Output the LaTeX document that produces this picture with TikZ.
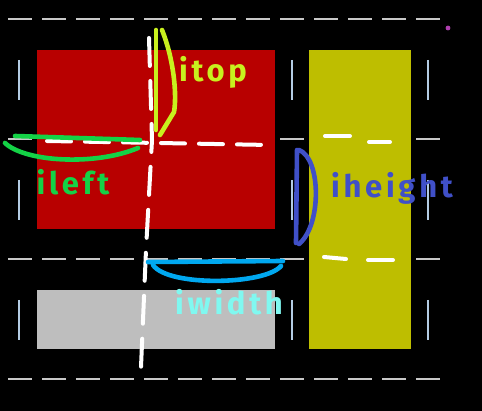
\documentclass[tikz,border=0pt]{standalone}
\usepackage{fontspec}
\setmainfont{Fira Sans}
\definecolor{rosso}{HTML}{B80000}
\definecolor{oliva}{HTML}{BEBE00}
\definecolor{grigio}{HTML}{BEBEBE}
\definecolor{griglia}{HTML}{C8C8C8}
\definecolor{grigliav}{HTML}{B4CCE4}
\definecolor{verde}{HTML}{14D246}
\definecolor{lime}{HTML}{C8F01E}
\definecolor{blu}{HTML}{4050C8}
\definecolor{azzurro}{HTML}{00A8F0}
\definecolor{ciano}{HTML}{80F8F0}
\definecolor{viola}{HTML}{B040B0}
\tikzset{
    mano/.style={line width=4.6pt},
    etichetta/.style={font=\fontsize{31}{31}\selectfont\bfseries\addfontfeature{LetterSpace=12}, inner sep=0pt},
}
\begin{document}
\begin{tikzpicture}[x=1pt, y=-1pt, line cap=round, line join=round]
        % Fondo nero
        \fill[black] (0,0) rectangle (482,411);

        % Griglia tratteggiata (righe orizzontali)
        \foreach \yy in {19, 139, 259, 379}
            \draw[line width=2.4pt, color=griglia, dash pattern=on 24pt off 10pt, line cap=butt] (8,\yy) -- (440,\yy);

        % Griglia tratteggiata (tratti verticali)
        \foreach \xx in {19, 292, 428}
            \foreach \yy in {60, 180, 300}
                \draw[line width=2.4pt, color=grigliav, line cap=butt] (\xx,\yy) -- (\xx,\yy+40);

        % Rettangoli colorati
        \fill[rosso] (37,50) rectangle (275,229);
        \fill[oliva] (309,50) rectangle (411,349);
        \fill[grigio] (37,290) rectangle (275,349);

        % Punto viola in alto a destra
        \fill[viola] (448,28) circle (2.4pt);

        % Linee bianche tratteggiate a mano
        \draw[white, line width=4pt, dash pattern=on 28pt off 15pt] (149,38) -- (152,140) -- (146,250) -- (141,367);
        \draw[white, line width=4pt, dash pattern=on 24pt off 14pt] (47,141) -- (270,145);
        \draw[white, line width=4pt] (325,136) -- (350,136);
        \draw[white, line width=4pt] (369,142) -- (390,142);
        \draw[white, line width=4pt] (324,257) -- (346,259);
        \draw[white, line width=4pt] (368,260) -- (393,260);

        % Parentesi ileft (verde)
        \draw[verde, mano] (15,136) -- (140,140);
        \draw[verde, mano] (5,143) .. controls (25,162) and (95,166) .. (138,148);
        \node[verde, etichetta] (ileft) at (73,182) {ileft};

        % Parentesi itop (giallo-verde)
        \draw[lime, mano] (156,30) -- (156,130);
        \draw[lime, mano] (162,30) .. controls (174,60) and (177,95) .. (174,112) -- (160,135);
        \node[lime, etichetta] (itop) at (213,72) {itop};

        % Parentesi iheight (blu)
        \draw[blu, mano] (297,150) -- (296,243);
        \draw[blu, mano] (299,150) .. controls (321,158) and (322,225) .. (299,244);
        \node[blu, etichetta] (iheight) at (392,188) {iheight};

        % Parentesi iwidth (azzurro)
        \draw[azzurro, mano] (148,262) -- (283,261);
        \draw[azzurro, mano] (153,265) .. controls (168,287) and (265,285) .. (281,266);
        \node[ciano, etichetta] (iwidth) at (229,302) {iwidth};
    \end{tikzpicture}
\end{document}
